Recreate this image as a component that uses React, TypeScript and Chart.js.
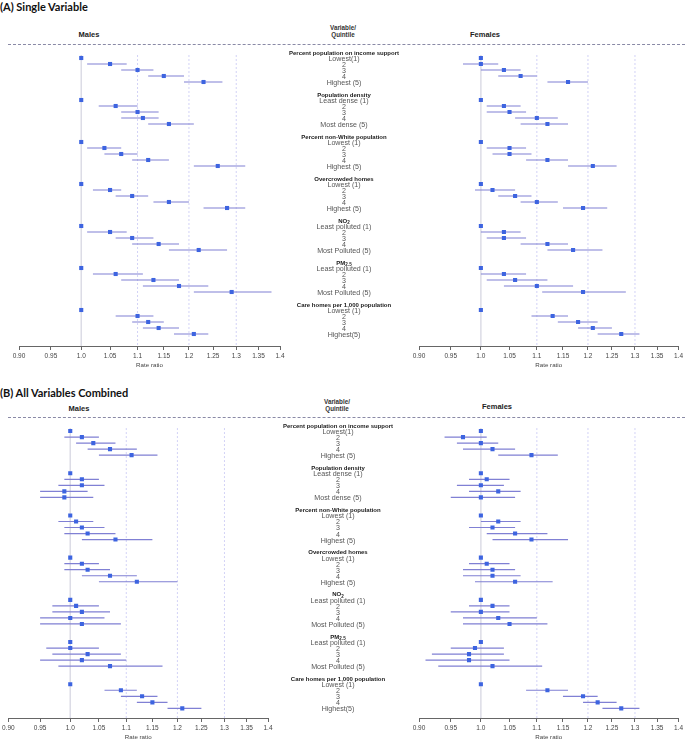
import React, { useEffect, useRef } from 'react';
import { Chart, registerables } from 'chart.js';

Chart.register(...registerables);
Chart.defaults.font.family = "'Liberation Sans', Arial, sans-serif";

// ---------- categories / labels ----------
const VARIABLES = [
  'Percent population on income support',
  'Population density',
  'Percent non-White population',
  'Overcrowded homes',
  'NO',
  'PM',
  'Care homes per 1,000 population',
];
const VAR_SUBSCRIPTS = ['', '', '', '', '2', '2.5', ''];
const QUINTILE_LABELS = [
  ['Lowest(1)', '2', '3', '4', 'Highest (5)'],
  ['Least dense (1)', '2', '3', '4', 'Most dense (5)'],
  ['Lowest (1)', '2', '3', '4', 'Highest (5)'],
  ['Lowest (1)', '2', '3', '4', 'Highest (5)'],
  ['Least polluted (1)', '2', '3', '4', 'Most Polluted (5)'],
  ['Least polluted (1)', '2', '3', '4', 'Most Polluted (5)'],
  ['Lowest (1)', '2', '3', '4', 'Highest(5)'],
];

const TICK_VALUES = [0.9, 0.95, 1.0, 1.05, 1.1, 1.15, 1.2, 1.25, 1.3, 1.35, 1.4];
const TICK_LABELS = ['0.90', '0.95', '1.0', '1.05', '1.1', '1.15', '1.2', '1.25', '1.3', '1.35', '1.4'];
const REF_SOLID = [1.0];
const REF_DASHED = [1.1, 1.2, 1.3];

// ---------- (A) Single variable ----------
const A_MALE_EST = [
  1.0, 1.05, 1.1, 1.15, 1.23,
  1.0, 1.06, 1.1, 1.11, 1.16,
  1.0, 1.04, 1.07, 1.12, 1.26,
  1.0, 1.05, 1.09, 1.16, 1.28,
  1.0, 1.05, 1.09, 1.14, 1.22,
  1.0, 1.06, 1.13, 1.18, 1.29,
  1.0, 1.1, 1.12, 1.14, 1.21,
];
const A_MALE_LO = [
  null, 1.01, 1.07, 1.12, 1.19,
  null, 1.03, 1.07, 1.07, 1.12,
  null, 1.01, 1.04, 1.09, 1.21,
  null, 1.02, 1.06, 1.13, 1.23,
  null, 1.01, 1.06, 1.09, 1.16,
  null, 1.02, 1.07, 1.11, 1.21,
  null, 1.06, 1.09, 1.11, 1.17,
];
const A_MALE_HI = [
  null, 1.08, 1.13, 1.19, 1.27,
  null, 1.1, 1.14, 1.14, 1.21,
  null, 1.07, 1.1, 1.16, 1.32,
  null, 1.07, 1.12, 1.2, 1.32,
  null, 1.08, 1.13, 1.18, 1.28,
  null, 1.11, 1.18, 1.24, 1.38,
  null, 1.13, 1.15, 1.18, 1.24,
];
const A_FEMALE_EST = [
  1.0, 1.0, 1.04, 1.07, 1.16,
  1.0, 1.04, 1.05, 1.1, 1.12,
  1.0, 1.05, 1.05, 1.12, 1.21,
  1.0, 1.02, 1.06, 1.1, 1.19,
  1.0, 1.04, 1.04, 1.12, 1.17,
  1.0, 1.04, 1.06, 1.1, 1.19,
  1.0, 1.13, 1.18, 1.21, 1.27,
];
const A_FEMALE_LO = [
  null, 0.97, 1.0, 1.03, 1.12,
  null, 1.01, 1.01, 1.06, 1.07,
  null, 1.01, 1.02, 1.08, 1.16,
  null, 0.99, 1.03, 1.07, 1.15,
  null, 1.0, 1.01, 1.07, 1.12,
  null, 1.0, 1.01, 1.04, 1.11,
  null, 1.09, 1.14, 1.18, 1.22,
];
const A_FEMALE_HI = [
  null, 1.03, 1.07, 1.1, 1.2,
  null, 1.07, 1.08, 1.14, 1.16,
  null, 1.08, 1.09, 1.16, 1.26,
  null, 1.06, 1.09, 1.14, 1.24,
  null, 1.07, 1.08, 1.16, 1.23,
  null, 1.08, 1.12, 1.17, 1.28,
  null, 1.16, 1.22, 1.25, 1.31,
];

// ---------- (B) All variables combined ----------
const B_MALE_EST = [
  1.0, 1.02, 1.04, 1.07, 1.11,
  1.0, 1.02, 1.02, 0.99, 0.99,
  1.0, 1.01, 1.02, 1.03, 1.08,
  1.0, 1.02, 1.03, 1.07, 1.12,
  1.0, 1.01, 1.02, 1.0, 1.02,
  1.0, 1.0, 1.03, 1.02, 1.07,
  1.0, 1.09, 1.13, 1.15, 1.21,
];
const B_MALE_LO = [
  null, 0.99, 1.01, 1.03, 1.05,
  null, 0.99, 0.98, 0.95, 0.95,
  null, 0.98, 0.99, 0.99, 1.02,
  null, 0.99, 0.99, 1.02, 1.05,
  null, 0.97, 0.97, 0.95, 0.95,
  null, 0.96, 0.97, 0.95, 0.98,
  null, 1.06, 1.09, 1.12, 1.18,
];
const B_MALE_HI = [
  null, 1.05, 1.08, 1.12, 1.16,
  null, 1.05, 1.06, 1.03, 1.04,
  null, 1.04, 1.06, 1.08, 1.15,
  null, 1.05, 1.07, 1.12, 1.2,
  null, 1.05, 1.07, 1.06, 1.09,
  null, 1.05, 1.09, 1.1, 1.17,
  null, 1.12, 1.16, 1.18, 1.25,
];
const B_FEMALE_EST = [
  1.0, 0.97, 1.0, 1.02, 1.09,
  1.0, 1.01, 1.0, 1.03, 1.0,
  1.0, 1.03, 1.02, 1.06, 1.09,
  1.0, 1.01, 1.02, 1.02, 1.06,
  1.0, 1.02, 1.0, 1.03, 1.05,
  1.0, 0.99, 0.98, 0.98, 1.02,
  1.0, 1.12, 1.19, 1.22, 1.27,
];
const B_FEMALE_LO = [
  null, 0.94, 0.96, 0.97, 1.03,
  null, 0.98, 0.96, 0.98, 0.95,
  null, 1.0, 0.98, 1.01, 1.02,
  null, 0.98, 0.97, 0.97, 0.99,
  null, 0.98, 0.95, 0.97, 0.97,
  null, 0.95, 0.92, 0.91, 0.93,
  null, 1.08, 1.15, 1.19, 1.23,
];
const B_FEMALE_HI = [
  null, 1.01, 1.03, 1.06, 1.14,
  null, 1.05, 1.04, 1.07, 1.06,
  null, 1.07, 1.06, 1.12, 1.16,
  null, 1.05, 1.06, 1.07, 1.13,
  null, 1.05, 1.05, 1.1, 1.12,
  null, 1.04, 1.04, 1.05, 1.11,
  null, 1.16, 1.22, 1.26, 1.31,
];

const ROWS_PER_GROUP = 7;
const rowOf = (i: number) => Math.floor(i / 5) * ROWS_PER_GROUP + 1 + (i % 5);

const FONT = "'Liberation Sans', Arial, sans-serif";
const MARKER = '#3d64e0';
const CI_COLOR = '#8080d4';

type PanelProps = {
  left: number;
  top: number;
  width: number;
  height: number;
  padL: number;
  padR: number;
  padT: number;
  yMax: number;
  est: number[];
  lo: (number | null)[];
  hi: (number | null)[];
  labelX?: number;
};

function ForestPanel(p: PanelProps) {
  const ref = useRef<HTMLCanvasElement>(null);
  useEffect(() => {
    if (!ref.current) return;
    const points = p.est.map((v, i) => ({ x: v, y: rowOf(i) }));
    const ci: { x: number; y: number }[] = [];
    p.est.forEach((_, i) => {
      const l = p.lo[i];
      const h = p.hi[i];
      if (l == null || h == null) return;
      const r = rowOf(i);
      ci.push({ x: l, y: r }, { x: h, y: r }, { x: h, y: NaN });
    });
    const refTop = 0.5;
    const refSets: any[] = [
      ...REF_SOLID.map((v) => ({
        type: 'line',
        data: [{ x: v, y: refTop }, { x: v, y: p.yMax }],
        borderColor: '#dcdce6',
        borderWidth: 1.5,
        pointRadius: 0,
        showLine: true,
        order: 3,
      })),
      ...REF_DASHED.map((v) => ({
        type: 'line',
        data: [{ x: v, y: refTop }, { x: v, y: p.yMax }],
        borderColor: '#d2d2f6',
        borderWidth: 1,
        borderDash: [2, 2],
        pointRadius: 0,
        showLine: true,
        order: 2,
      })),
    ];

    const labelPlugin = {
      id: 'centerLabels',
      afterDraw(chart: any) {
        if (p.labelX == null) return;
        const ctx = chart.ctx as CanvasRenderingContext2D;
        const ys = chart.scales.y;
        const x = p.labelX;
        ctx.save();
        ctx.textBaseline = 'middle';
        VARIABLES.forEach((name, g) => {
          const yT = ys.getPixelForValue(g * ROWS_PER_GROUP) + 1;
          const sub = VAR_SUBSCRIPTS[g];
          ctx.font = `bold 6px ${FONT}`;
          const mainW = ctx.measureText(name).width;
          ctx.font = `bold 4.5px ${FONT}`;
          const subW = sub ? ctx.measureText(sub).width : 0;
          const start = x - (mainW + subW) / 2;
          ctx.textAlign = 'left';
          ctx.fillStyle = '#1a1a1a';
          ctx.font = `bold 6px ${FONT}`;
          ctx.fillText(name, start, yT);
          if (sub) {
            ctx.font = `bold 4.5px ${FONT}`;
            ctx.fillText(sub, start + mainW, yT + 2);
          }
          ctx.textAlign = 'center';
          ctx.fillStyle = '#555';
          ctx.font = `7.1px ${FONT}`;
          QUINTILE_LABELS[g].forEach((lab, k) => {
            ctx.fillText(lab, x, ys.getPixelForValue(g * ROWS_PER_GROUP + 1 + k) + 1);
          });
        });
        ctx.restore();
      },
    };

    const chart = new Chart(ref.current, {
      type: 'scatter',
      data: {
        datasets: [
          {
            data: points,
            pointStyle: 'rect',
            pointRadius: 2.9,
            pointHoverRadius: 2.9,
            backgroundColor: MARKER,
            borderColor: MARKER,
            borderWidth: 0,
            order: 0,
          } as any,
          {
            type: 'line',
            data: ci,
            showLine: true,
            spanGaps: false,
            borderColor: CI_COLOR,
            borderWidth: 1.2,
            pointRadius: 0,
            order: 1,
          } as any,
          ...refSets,
        ],
      },
      options: {
        responsive: false,
        animation: false,
        devicePixelRatio: 1,
        events: [],
        layout: { padding: { left: p.padL, right: p.padR, top: p.padT, bottom: 0 } },
        plugins: { legend: { display: false }, tooltip: { enabled: false } },
        scales: {
          x: {
            type: 'logarithmic',
            min: 0.9,
            max: 1.4,
            afterBuildTicks: (s: any) => {
              s.ticks = TICK_VALUES.map((v) => ({ value: v }));
            },
            afterFit: (s: any) => {
              s.height = 23;
            },
            ticks: {
              callback: (_v: any, i: number) => TICK_LABELS[i],
              autoSkip: false,
              maxRotation: 0,
              minRotation: 0,
              font: { size: 6.5 },
              color: '#444',
              padding: 2,
            },
            grid: {
              drawOnChartArea: false,
              drawTicks: true,
              tickLength: 4,
              tickColor: '#666',
              tickWidth: 1,
            },
            border: { display: true, color: '#666', width: 1 },
            title: {
              display: true,
              text: 'Rate ratio',
              font: { size: 6.2 },
              color: '#444',
              padding: 0,
            },
          } as any,
          y: {
            type: 'linear',
            reverse: true,
            min: -1,
            max: p.yMax,
            display: false,
          },
        },
      },
      plugins: [labelPlugin],
    } as any);
    return () => chart.destroy();
  }, []);
  return (
    <canvas
      ref={ref}
      width={p.width}
      height={p.height}
      style={{ position: 'absolute', left: p.left, top: p.top, width: p.width, height: p.height }}
    />
  );
}

function Txt(props: { x: number; y: number; text: string; size: number; bold?: boolean; color?: string; align?: 'left' | 'center'; family?: string }) {
  const { x, y, text, size, bold, color, align, family } = props;
  return (
    <div
      style={{
        position: 'absolute',
        left: x,
        top: y,
        transform: align === 'left' ? 'translate(0,-50%)' : 'translate(-50%,-50%)',
        fontFamily: family || FONT,
        fontSize: size,
        fontWeight: bold ? 700 : 400,
        color: color || '#222',
        whiteSpace: 'nowrap',
        lineHeight: 1,
      }}
    >
      {text}
    </div>
  );
}

export default function App() {
  return (
    <div style={{ position: 'absolute', left: 0, top: 0, width: 685, height: 740, background: '#fff', overflow: 'hidden' }}>
      {/* Panel A */}
      <Txt x={0} y={6} text="(A) Single Variable" size={11} bold align="left" family="Lato, 'Open Sans', sans-serif" color="#111" />
      <Txt x={89} y={35} text="Males" size={7.5} bold />
      <Txt x={343} y={28} text="Variable/" size={6.3} bold color="#333" />
      <Txt x={343} y={35} text="Quintile" size={6.3} bold color="#333" />
      <Txt x={485} y={35} text="Females" size={7.5} bold />
      <div style={{ position: 'absolute', left: 8, top: 44, width: 677, borderTop: '1px dashed #8a8aa6' }} />
      <ForestPanel left={0} top={40} width={410} height={329} padL={19} padR={130} padT={6} yMax={49}
        est={A_MALE_EST} lo={A_MALE_LO} hi={A_MALE_HI} labelX={344} />
      <ForestPanel left={405} top={40} width={280} height={329} padL={14} padR={5} padT={6} yMax={49}
        est={A_FEMALE_EST} lo={A_FEMALE_LO} hi={A_FEMALE_HI} />

      {/* Panel B */}
      <Txt x={0} y={392} text="(B) All Variables Combined" size={11} bold align="left" family="Lato, 'Open Sans', sans-serif" color="#111" />
      <Txt x={79} y={409} text="Males" size={7.5} bold />
      <Txt x={337} y={402} text="Variable/" size={6.3} bold color="#333" />
      <Txt x={337} y={409} text="Quintile" size={6.3} bold color="#333" />
      <Txt x={497} y={407} text="Females" size={7.5} bold />
      <div style={{ position: 'absolute', left: 8, top: 417, width: 677, borderTop: '1px dashed #8a8aa6' }} />
      <ForestPanel left={0} top={412} width={410} height={329} padL={7} padR={142} padT={7} yMax={48.6}
        est={B_MALE_EST} lo={B_MALE_LO} hi={B_MALE_HI} labelX={338} />
      <ForestPanel left={405} top={412} width={280} height={329} padL={14} padR={5} padT={7} yMax={48.6}
        est={B_FEMALE_EST} lo={B_FEMALE_LO} hi={B_FEMALE_HI} />
    </div>
  );
}
